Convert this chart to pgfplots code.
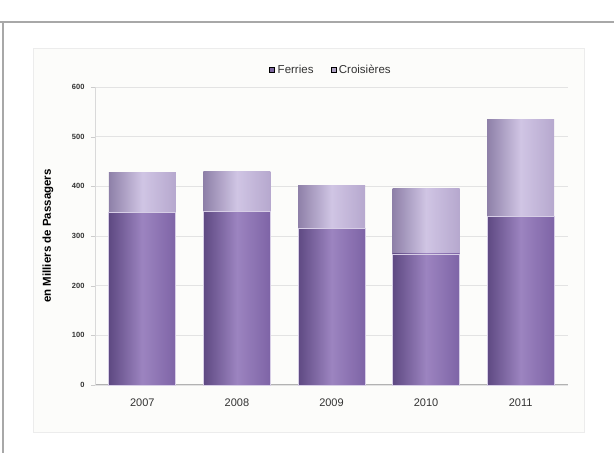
\documentclass[border=0pt]{standalone}
\usepackage{pgfplots}
\pgfplotsset{compat=1.18}
\usepackage{fontspec}
\setmainfont{Liberation Sans}
\definecolor{ferA}{HTML}{5E4982}
\definecolor{ferB}{HTML}{9C84C0}
\definecolor{ferC}{HTML}{7E64A6}
\definecolor{croA}{HTML}{8E80A8}
\definecolor{croB}{HTML}{D0C5E4}
\definecolor{croC}{HTML}{B6A8CE}
\definecolor{framec}{HTML}{A8A8A8}
\definecolor{boxc}{HTML}{FCFCFA}
\definecolor{txt}{HTML}{333333}
\begin{document}
\begin{tikzpicture}
\useasboundingbox (0,0) rectangle (614pt,453pt);
\fill[white] (0,0) rectangle (614pt,453pt);
\draw[framec, line width=1.2pt] (0pt,431pt) -- (614pt,431pt);
\draw[framec, line width=1.2pt] (3pt,0pt) -- (3pt,431pt);
\draw[gray!15, fill=boxc] (33pt,21pt) rectangle (584pt,405pt);
\begin{axis}[
  at={(95pt,68pt)}, anchor=south west,
  scale only axis, width=473pt, height=298pt,
  ybar, bar width=67pt, bar shift=0pt,
  xmin=-0.5, xmax=4.5, ymin=0, ymax=600,
  xtick={0,1,2,3,4}, xticklabels={2007,2008,2009,2010,2011},
  ytick={0,100,...,600},
  /pgf/number format/assume math mode=true,
  axis x line*=bottom, axis y line*=left,
  x axis line style={draw=gray!60, line width=1pt},
  y axis line style={draw=gray!30},
  xtick style={draw=none},
  ytick style={draw=gray!40},
  tick align=outside, major tick length=4pt,
  ymajorgrids, grid style={draw=gray!22, line width=0.8pt},
  xticklabel style={font=\fontsize{11}{12}\selectfont, text=txt, yshift=-6pt},
  yticklabel style={font=\bfseries\fontsize{7.5}{8}\selectfont, text=txt, xshift=-3pt},
  every axis y label/.style={at={(axis description cs:-0.0995,0.5)}, rotate=90, anchor=center,
    font=\bfseries\fontsize{11.5}{12}\selectfont, text=black},
  ylabel={en Milliers de Passagers},
  legend columns=2,
  legend style={draw=none, fill=none, at={(axis description cs:0.5,1)}, anchor=center, yshift=17pt,
    font=\fontsize{11.5}{12}\selectfont, text=txt,
    nodes={inner xsep=3pt},
    /tikz/every even column/.append style={column sep=14pt}},
  legend image code/.code={\fill[#1] (0pt,-2.5pt) rectangle (5pt,2.5pt);},
  legend cell align=left,
  clip=false,
]
\addlegendimage{fill=ferC!85!gray}
\addlegendentry{Ferries}
\addlegendimage{fill=croC!85!gray}
\addlegendentry{Croisières}
% totals (Ferries + Croisieres), drawn in Croisieres colour
\addplot[forget plot, draw=none, left color=croA, right color=croC, middle color=croB] coordinates {(0,428)};
\addplot[forget plot, draw=none, left color=croA, right color=croC, middle color=croB] coordinates {(1,430)};
\addplot[forget plot, draw=none, left color=croA, right color=croC, middle color=croB] coordinates {(2,402)};
\addplot[forget plot, draw=none, left color=croA, right color=croC, middle color=croB] coordinates {(3,396)};
\addplot[forget plot, draw=none, left color=croA, right color=croC, middle color=croB] coordinates {(4,535)};
% Ferries
\addplot[forget plot, draw=white!60!ferB, line width=0.6pt, left color=ferA, right color=ferC, middle color=ferB] coordinates {(0,348)};
\addplot[forget plot, draw=white!60!ferB, line width=0.6pt, left color=ferA, right color=ferC, middle color=ferB] coordinates {(1,350)};
\addplot[forget plot, draw=white!60!ferB, line width=0.6pt, left color=ferA, right color=ferC, middle color=ferB] coordinates {(2,316)};
\addplot[forget plot, draw=white!60!ferB, line width=0.6pt, left color=ferA, right color=ferC, middle color=ferB] coordinates {(3,264)};
\addplot[forget plot, draw=white!60!ferB, line width=0.6pt, left color=ferA, right color=ferC, middle color=ferB] coordinates {(4,340)};
\end{axis}
\end{tikzpicture}
\end{document}
